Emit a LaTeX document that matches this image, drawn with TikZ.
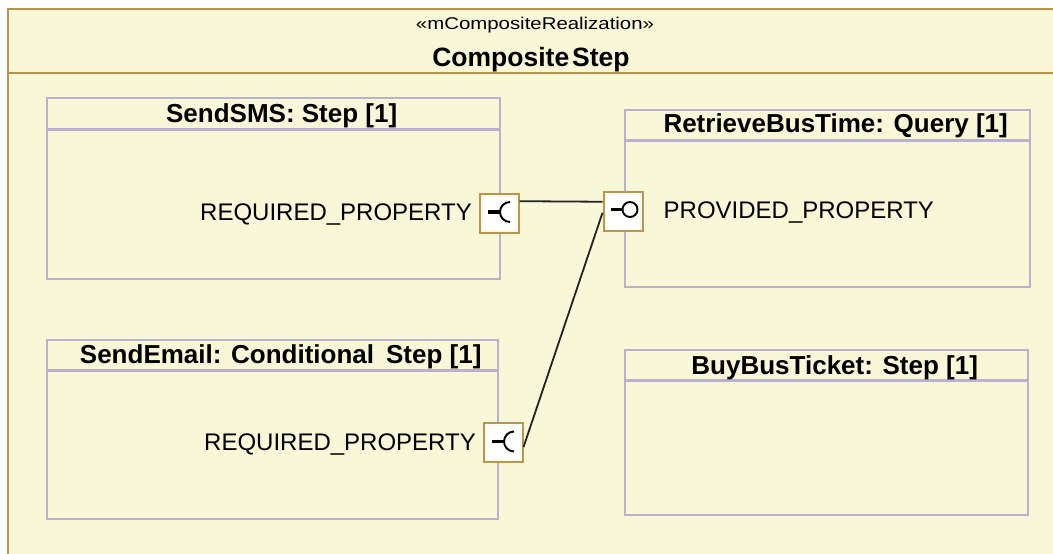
\documentclass[tikz,border=0pt]{standalone}
\usepackage{fontspec}
\usepackage{graphicx}
\setmainfont{Liberation Sans}
\usetikzlibrary{calc}

\definecolor{canvas}{RGB}{248,248,216}
\definecolor{frameline}{RGB}{184,150,80}
\definecolor{partline}{RGB}{184,178,204}
\definecolor{portrim}{RGB}{250,248,226}
\definecolor{wire}{RGB}{35,35,35}

\tikzset{
  frame/.style={draw=frameline, line width=2.5pt, fill=canvas},
  divider/.style={draw=frameline, line width=2.5pt},
  part/.style={draw=partline, line width=2.4pt, fill=canvas, inner sep=0pt, anchor=south west},
  partdivider/.style={draw=partline, line width=2.4pt},
  parttitle/.style={anchor=base, inner sep=0pt, font=\fontsize{26}{30}\selectfont\bfseries},
  proplabel/.style={inner sep=0pt, font=\fontsize{24}{28}\selectfont},
  port/.style={draw=frameline, line width=2pt, fill=white, minimum size=39pt, inner sep=0pt},
  portinner/.style={draw=portrim, line width=1.5pt},
  stem/.style={draw=black, line width=3.4pt, line cap=butt},
  socket/.style={draw=black, line width=1.9pt},
  requiredport/.style={port, path picture={
      \coordinate (pc) at (path picture bounding box.center);
      \draw[portinner] ($(path picture bounding box.south west)+(1.8,1.8)$) rectangle ($(path picture bounding box.north east)+(-1.8,-1.8)$);
      \draw[stem] ($(pc)+(-11,1.5)$) -- ($(pc)+(1,1.5)$);
      \draw[socket] ($(pc)+(11,11.5)$) arc[start angle=90, end angle=270, radius=10pt];
    }},
  providedport/.style={port, path picture={
      \coordinate (pc) at (path picture bounding box.center);
      \draw[portinner] ($(path picture bounding box.south west)+(1.8,1.8)$) rectangle ($(path picture bounding box.north east)+(-1.8,-1.8)$);
      \draw[stem] ($(pc)+(-12,2.5)$) -- ($(pc)+(-0.5,2.5)$);
      \draw[socket] ($(pc)+(7,2.5)$) circle[radius=7.5pt];
    }},
  connector/.style={draw=wire, line width=1.8pt},
}

\begin{document}
\begin{tikzpicture}[x=1pt, y=1pt]
  \useasboundingbox (0,0) rectangle (1053,554);
  \clip (0,0) rectangle (1053,554);
  \fill[white] (0,0) rectangle (1053,554);

  % enclosing composite structure
  \path[frame] (8,-12) rectangle (1066,545);
  \draw[divider] (8,481) -- (1066,481);
  \node[anchor=base, inner sep=0pt] (stereo) at (535,524)
    {\scalebox{1.2}[1]{\fontsize{17}{20}\selectfont «mCompositeRealization»}};
  \node[anchor=base, inner sep=0pt, font=\fontsize{26.5}{30}\selectfont\bfseries] (comp) at (531,487) {Composite\hspace{3pt}Step};

  % parts
  \node[part, minimum width=453pt, minimum height=181pt] (sms) at (46,274) {};
  \draw[partdivider] ($(sms.north west)+(0,-33)$) -- ($(sms.north east)+(0,-33)$);
  \node[parttitle] (smsT) at ($(sms.north)+(8,-26)$) {SendSMS: Step [1]};

  \node[part, minimum width=451pt, minimum height=179pt] (email) at (46,34) {};
  \draw[partdivider] ($(email.north west)+(0,-32)$) -- ($(email.north east)+(0,-32)$);
  \node[parttitle] (emailT) at ($(email.north)+(8,-24.5)$) {SendEmail: Conditional\hspace{12pt}Step [1]};

  \node[part, minimum width=405pt, minimum height=177pt] (bus) at (624,266) {};
  \draw[partdivider] ($(bus.north west)+(0,-32)$) -- ($(bus.north east)+(0,-32)$);
  \node[parttitle] (busT) at ($(bus.north)+(8,-24)$) {RetrieveBusTime: Query [1]};

  \node[part, minimum width=403pt, minimum height=165pt] (ticket) at (624,38) {};
  \draw[partdivider] ($(ticket.north west)+(0,-32)$) -- ($(ticket.north east)+(0,-32)$);
  \node[parttitle] (ticketT) at ($(ticket.north)+(8,-26)$) {BuyBusTicket: Step [1]};

  % ports
  \node[requiredport] (smsP) at (499,340.5) {};
  \node[requiredport] (emailP) at (503,111) {};
  \node[providedport] (busP) at (623,342) {};

  \node[proplabel, anchor=base east] (smsL) at ($(smsP.west)+(-6.5,-7.2)$) {REQUIRED\_PROPERTY};
  \node[proplabel, anchor=base east] (emailL) at ($(emailP.west)+(-6.5,-7.7)$) {REQUIRED\_PROPERTY};
  \node[proplabel, anchor=base west] (busL) at ($(busP.east)+(20,-6.3)$) {PROVIDED\_PROPERTY};

  % connectors
  \draw[connector] ($(smsP.north east)!0.2!(smsP.south east)$) -- ($(busP.north west)!0.25!(busP.south west)$);
  \draw[connector] ($(emailP.north east)!0.6!(emailP.south east)$) -- ($(busP.north west)!0.52!(busP.south west)$);
\end{tikzpicture}
\end{document}
